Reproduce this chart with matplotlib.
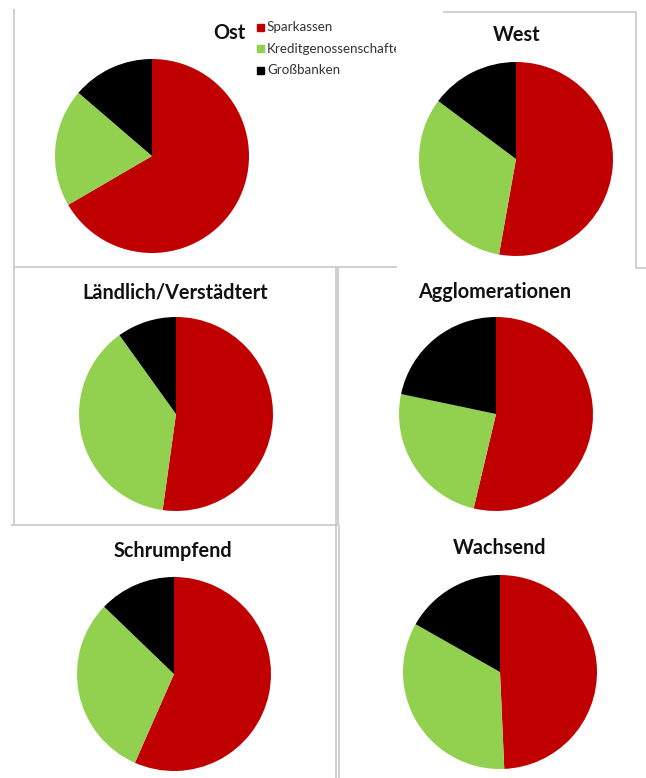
"""Six pies: market shares of Sparkassen / Kreditgenossenschaften / Großbanken
by region type, laid out like a pasted Excel collage."""
import matplotlib
matplotlib.use("Agg")
import matplotlib.pyplot as plt
from matplotlib.transforms import Bbox, TransformedBbox

W, H = 646, 778

categories = ["Sparkassen", "Kreditgenossenschaften", "Großbanken"]
colors = ["#C00000", "#92D050", "#000000"]

regions = ["Ost", "West", "Ländlich/Verstädtert", "Agglomerationen",
           "Schrumpfend", "Wachsend"]
ost = [66.6, 19.7, 13.7]
west = [52.8, 32.4, 14.8]
laendlich = [52.2, 37.9, 9.9]
agglo = [53.7, 24.6, 21.7]
schrumpfend = [56.6, 30.6, 12.8]
wachsend = [49.3, 33.9, 16.8]
shares = [ost, west, laendlich, agglo, schrumpfend, wachsend]

# pie centre (px), radius (px), title centre (px)
layout = [
    ((152, 156), 97, (229, 33)),
    ((516, 159), 97, (517, 35)),
    ((176, 414), 97, (175, 292)),
    ((496, 414), 97, (495, 292)),
    ((174, 674), 97, (173, 551)),
    ((500, 672), 97, (500, 548)),
]

fig = plt.figure(figsize=(W / 100, H / 100), dpi=100)
fig.patch.set_facecolor("white")

for vals, ((cx, cy), r, _) in zip(shares, layout):
    ax = fig.add_axes([(cx - r) / W, 1 - (cy + r) / H, 2 * r / W, 2 * r / H])
    ax.pie(vals, colors=colors, startangle=90, counterclock=False,
           radius=1, wedgeprops=dict(linewidth=0))
    ax.set_xlim(-1, 1)
    ax.set_ylim(-1, 1)
    ax.set_aspect("equal")
    ax.axis("off")

# overlay in pixel coordinates for titles, legend and the panel borders
ov = fig.add_axes([0, 0, 1, 1], zorder=5)
ov.set_xlim(0, W)
ov.set_ylim(H, 0)
ov.axis("off")
ov.patch.set_alpha(0)

for name, (_, _, (tx, ty)) in zip(regions, layout):
    ov.text(tx, ty, name, ha="center", va="center", fontsize=14.3,
            fontweight="bold", family="Lato", color="#111111")

# legend of the Ost panel, cut off at the panel edge like the screenshot
clip = TransformedBbox(Bbox([[14, 0], [396, 267]]), ov.transData)
for i, (lab, col) in enumerate(zip(categories, colors)):
    y = 27 + i * 21.5
    ov.add_patch(plt.Rectangle((257, y - 3.5), 7, 7, color=col))
    t = ov.text(267, y, lab, ha="left", va="center", fontsize=9.6,
                family="Lato", color="#333333")
    t.set_clip_box(clip)
    t.set_clip_on(True)

grey = "#c8c8c8"
borders = [
    # Ost
    ([14, 14], [9, 267]), ([14, 397], [267, 267]),
    # West
    ([443, 636], [12, 12]), ([636, 636], [12, 268]), ([636, 646], [268, 268]),
    # Ländlich/Verstädtert
    ([336, 336], [267, 525]), ([14, 14], [267, 524]),
    # Agglomerationen
    ([338, 338], [267, 525]),
    # Schrumpfend / Wachsend
    ([11, 338], [525, 525]), ([336, 336], [525, 778]), ([339, 339], [525, 778]),
]
for xs, ys in borders:
    ov.plot(xs, ys, color=grey, lw=1.2, solid_capstyle="butt")

fig.savefig("out.png", dpi=100, facecolor="white")
